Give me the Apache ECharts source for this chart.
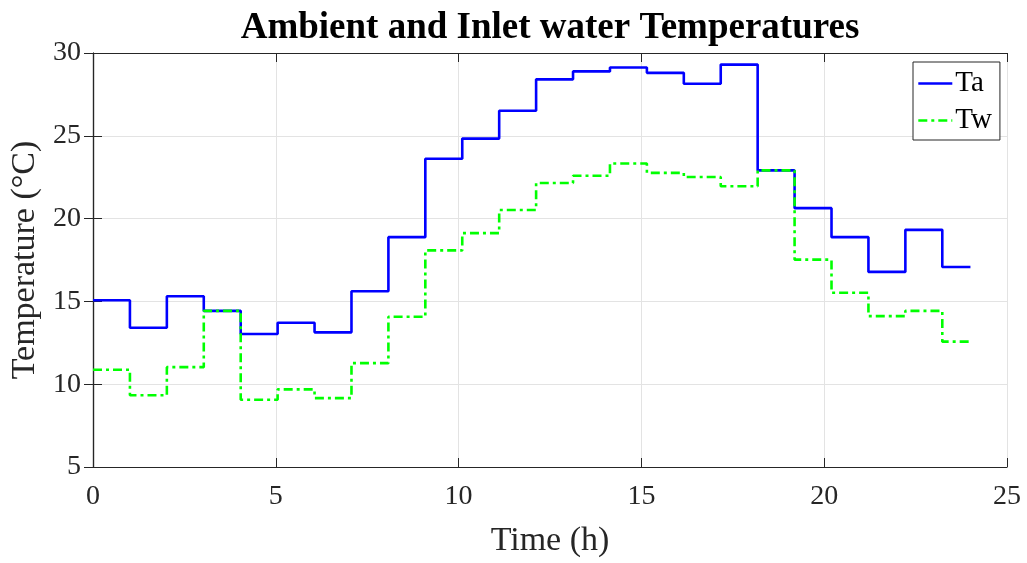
<!DOCTYPE html>
<html>
<head>
<meta charset="utf-8">
<script src="https://cdn.jsdelivr.net/npm/echarts@6/dist/echarts.min.js"></script>
<style>
  html, body { margin: 0; padding: 0; background: #fff; }
  #chart { width: 1027px; height: 563px; }
</style>
</head>
<body>
<div id="chart"></div>
<script>
// Hourly time stamps (h) at which each temperature level starts; last entry closes the final step
const hours = [0, 1.01, 2.02, 3.03, 4.04, 5.05, 6.06, 7.07, 8.08, 9.09, 10.10, 11.11,
               12.12, 13.13, 14.14, 15.15, 16.16, 17.17, 18.18, 19.19, 20.20, 21.21, 22.22, 23.23, 24];

// Ambient air temperature (°C)
const ambientTa = [15.07, 13.41, 15.31, 14.43, 13.03, 13.71, 13.13, 15.61, 18.88, 23.61, 24.83, 26.51,
                   28.41, 28.89, 29.12, 28.80, 28.14, 29.30, 22.91, 20.63, 18.88, 16.78, 19.32, 17.08, 17.08];

// Inlet water temperature (°C)
const inletTw = [10.87, 9.33, 11.03, 14.43, 9.06, 9.69, 9.16, 11.27, 14.07, 18.08, 19.12, 20.52,
                 22.15, 22.59, 23.33, 22.76, 22.51, 21.95, 22.91, 17.52, 15.52, 14.11, 14.43, 12.57, 12.57];

const xTicks = [0, 25, 5];   // min, max, interval
const yTicks = [5, 30, 5];

const pair = (xs, ys) => xs.map((x, i) => [x, ys[i]]);

const FONT = '"Liberation Serif", "DejaVu Serif", serif';
const AXIS_COLOR = '#262626';
const GRID_COLOR = '#e3e3e3';

const chart = echarts.init(document.getElementById('chart'), null, { renderer: 'canvas' });

const hiddenLabels = { show: false };
const innerTicks = { show: true, inside: true, length: 9, lineStyle: { color: AXIS_COLOR, width: 1 } };
const axisLine = { show: true, lineStyle: { color: AXIS_COLOR, width: 1.2 } };

chart.setOption({
  animation: false,
  backgroundColor: '#ffffff',
  title: {
    text: 'Ambient and Inlet water Temperatures',
    left: 545,
    top: 5,
    textAlign: 'center',
    textStyle: { fontFamily: FONT, fontWeight: 'bold', fontSize: 37, color: '#000' }
  },
  grid: { left: 93, right: 20, top: 53, bottom: 94, containLabel: false },
  legend: {
    orient: 'vertical',
    left: 913,
    top: 62,
    padding: [7, 8, 5, 4],
    itemGap: 8,
    itemWidth: 34,
    itemHeight: 28,
    backgroundColor: '#fff',
    borderColor: AXIS_COLOR,
    borderWidth: 1,
    borderRadius: 0,
    itemStyle: { opacity: 0 },
    lineStyle: { width: 2.6 },
    textStyle: { fontFamily: FONT, fontSize: 29, color: '#000', padding: [0, 0, 0, -2] },
    data: ['Ta', 'Tw']
  },
  xAxis: [
    {
      type: 'value', min: xTicks[0], max: xTicks[1], interval: xTicks[2],
      name: 'Time (h)', nameLocation: 'middle', nameGap: 57,
      nameTextStyle: { fontFamily: FONT, fontSize: 34, color: AXIS_COLOR },
      axisLine, axisTick: innerTicks,
      axisLabel: { fontFamily: FONT, fontSize: 28, color: AXIS_COLOR, margin: 16 },
      splitLine: { show: true, lineStyle: { color: GRID_COLOR, width: 1 } }
    },
    {
      type: 'value', position: 'top', min: xTicks[0], max: xTicks[1], interval: xTicks[2],
      axisLine, axisTick: innerTicks, axisLabel: hiddenLabels, splitLine: { show: false }
    }
  ],
  yAxis: [
    {
      type: 'value', min: yTicks[0], max: yTicks[1], interval: yTicks[2],
      name: 'Temperature (°C)', nameLocation: 'middle', nameGap: 47,
      nameTextStyle: { fontFamily: FONT, fontSize: 34, color: AXIS_COLOR },
      axisLine, axisTick: innerTicks,
      axisLabel: { fontFamily: FONT, fontSize: 28, color: AXIS_COLOR, margin: 12 },
      splitLine: { show: true, lineStyle: { color: GRID_COLOR, width: 1 } }
    },
    {
      type: 'value', position: 'right', min: yTicks[0], max: yTicks[1], interval: yTicks[2],
      axisLine, axisTick: innerTicks, axisLabel: hiddenLabels, splitLine: { show: false }
    }
  ],
  series: [
    {
      name: 'Ta', type: 'line', step: 'end', xAxisIndex: 0, yAxisIndex: 0,
      data: pair(hours, ambientTa),
      showSymbol: false, symbol: 'none',
      lineStyle: { color: '#0000ff', width: 2.6, type: 'solid' },
      itemStyle: { color: '#0000ff' },
      z: 2
    },
    {
      name: 'Tw', type: 'line', step: 'end', xAxisIndex: 0, yAxisIndex: 0,
      data: pair(hours, inletTw),
      showSymbol: false, symbol: 'none',
      lineStyle: { color: '#00ff00', width: 2.6, type: [9, 4, 3, 4] },
      itemStyle: { color: '#00ff00' },
      z: 3
    }
  ]
});
</script>
</body>
</html>
